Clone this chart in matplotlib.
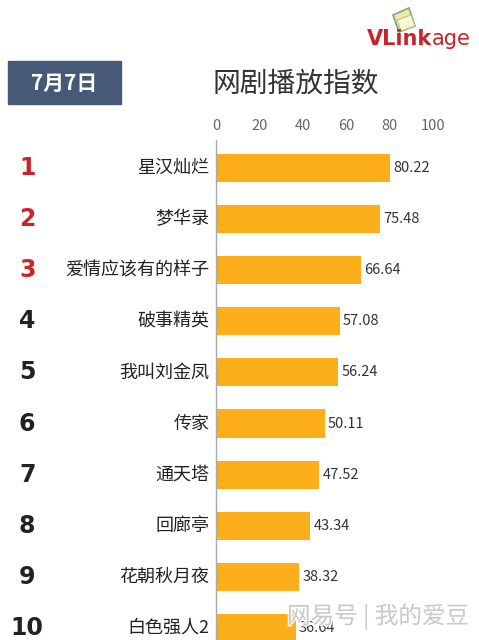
import matplotlib.pyplot as plt
from matplotlib.patches import Rectangle, Polygon
import matplotlib.patheffects as pe

plt.rcParams['font.family'] = ['Noto Sans CJK SC', 'DejaVu Sans']

ranks = ['1', '2', '3', '4', '5', '6', '7', '8', '9', '10']
names = ['星汉灿烂', '梦华录', '爱情应该有的样子', '破事精英', '我叫刘金凤',
         '传家', '通天塔', '回廊亭', '花朝秋月夜', '白色强人2']
values = [80.22, 75.48, 66.64, 57.08, 56.24, 50.11, 47.52, 43.34, 38.32, 36.64]
ticks = [0, 20, 40, 60, 80, 100]

W, H = 479, 640
fig = plt.figure(figsize=(W / 100, H / 100), dpi=100)
fig.patch.set_facecolor('white')

# axes: top at y=140px, rows every ~51px, bottom runs off the picture
ax = fig.add_axes([216 / W, -40 / H, 217 / W, 540 / H])
pos = list(range(len(values)))
ax.barh(pos, values, height=0.55, color='#fcae1b', zorder=2)
ax.set_xlim(0, 100)
ax.set_ylim(10.02, -0.55)
ax.set_yticks([])
ax.set_xticks(ticks)
ax.xaxis.tick_top()
ax.tick_params(axis='x', length=0, pad=5, labelsize=10.5, labelcolor='#666666')
for s in ['right', 'bottom', 'top']:
    ax.spines[s].set_visible(False)
ax.spines['left'].set_color('#aaaaaa')
ax.spines['left'].set_linewidth(1.0)
ax.patch.set_alpha(0)

for i, (r, n, v) in enumerate(zip(ranks, names, values)):
    ax.text(v + 1.5, i, f'{v:.2f}', va='center', ha='left', fontsize=10.5,
            color='#333333', zorder=3)
    ax.text(-3, i, n, va='center', ha='right', fontsize=13, color='#222222')
    ax.text(-87, i, r, va='center', ha='center', fontsize=17, fontweight='bold',
            color='#c8242b' if i < 3 else '#222222', family='DejaVu Sans')

# date box
fig.patches.append(Rectangle((8 / W, 1 - 104 / H), 113 / W, 43 / H,
                             transform=fig.transFigure, color='#465a78'))
fig.text(64 / W, 1 - 83 / H, '7月7日', color='white', fontsize=15,
         fontweight='bold', ha='center', va='center')

# title
fig.text(296 / W, 1 - 84 / H, '网剧播放指数', fontsize=20, color='#333333',
         ha='center', va='center')

# logo
fig.text(432 / W, 1 - 39 / H, 'VLink', fontsize=15, fontweight='bold',
         color='#c8242b', ha='right', va='center', family='DejaVu Sans')
fig.text(432 / W, 1 - 39 / H, 'age', fontsize=15, color='#c8242b',
         ha='left', va='center', family='DejaVu Sans')
t = fig.dpi_scale_trans
fig.patches.append(Polygon([(3.93, 6.25), (4.09, 6.32), (4.15, 6.14), (3.99, 6.08)],
                           closed=True, transform=t, facecolor='#f3e9a6',
                           edgecolor='#7aa68a', linewidth=1.2))
fig.patches.append(Polygon([(3.97, 6.20), (4.11, 6.25), (4.15, 6.14), (4.01, 6.09)],
                           closed=True, transform=t, facecolor='#fbf6d8',
                           edgecolor='#b9c67a', linewidth=0.8))

# watermark
fig.text(378 / W, 1 - 617 / H, '网易号 | 我的爱豆', fontsize=17, color='#c4c4c4',
         alpha=0.9, ha='center', va='center',
         path_effects=[pe.withStroke(linewidth=2, foreground='white')])

fig.savefig('out.png', dpi=100)
